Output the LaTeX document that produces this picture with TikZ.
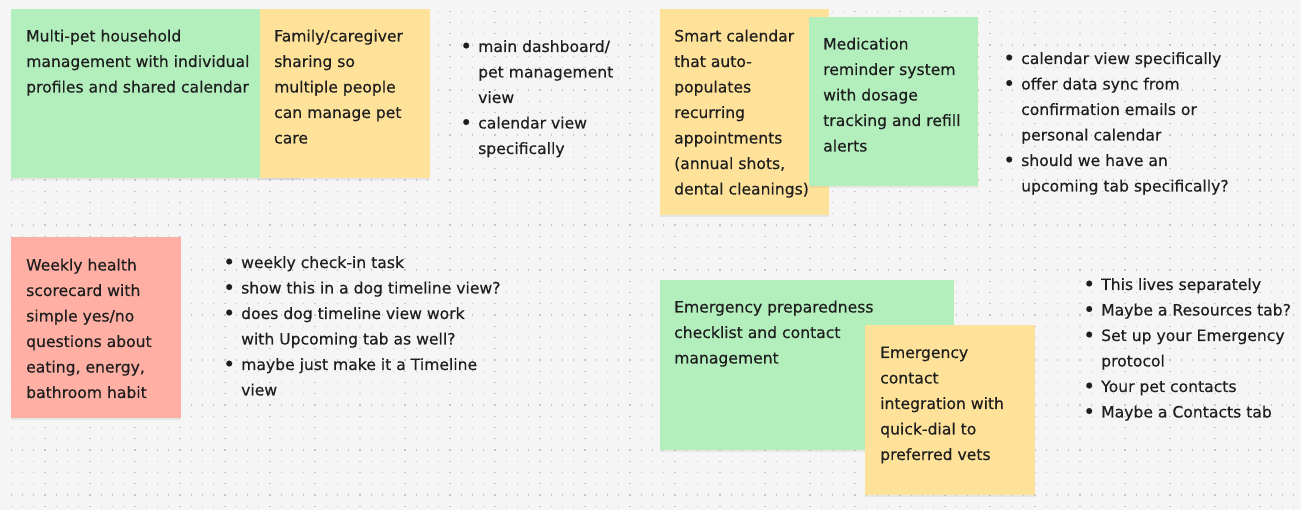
\documentclass[tikz,border=0pt]{standalone}
\usepackage{fontspec}
\setmainfont{DejaVu Sans}[BoldFont={DejaVu Sans}, BoldFeatures={FakeBold=0.35}]
\usetikzlibrary{shadows}

\definecolor{board}{HTML}{F5F5F5}
\definecolor{griddot}{HTML}{C6C6C6}
\definecolor{stickygreen}{HTML}{B3EFBD}
\definecolor{stickyyellow}{HTML}{FFE299}
\definecolor{stickyred}{HTML}{FFAFA3}
\definecolor{ink}{HTML}{1E1E1E}

\newcommand{\bul}{\makebox[12pt][l]{\makebox[0pt]{\raisebox{-0.07em}{\scalebox{1.3}{\textbullet}}}}}
\newcommand{\stack}[1]{\begin{tabular}[t]{@{}l@{}}#1\end{tabular}}
\newcommand{\bullets}[1]{\begin{tabular}[t]{@{}l@{}l@{}}#1\end{tabular}}

\tikzset{%
  sticky/.style={anchor=north west, inner sep=0pt, minimum width=170pt, minimum height=170pt,
    drop shadow={opacity=0.12, shadow xshift=0pt, shadow yshift=-2pt}},
  greennote/.style={sticky, fill=stickygreen},
  yellownote/.style={sticky, fill=stickyyellow},
  rednote/.style={sticky, fill=stickyred},
  notetext/.style={anchor=base west, inner sep=0pt, text=ink, font=\fontsize{15.6}{25.5}\selectfont\bfseries},
}

\begin{document}
\begin{tikzpicture}[x=1pt, y=-1pt]
\fill[board] (0,0) rectangle (1301,510);
\useasboundingbox (0,0) rectangle (1301,510);
% dot grid
\foreach \r in {1,...,45}
  \draw[griddot, line width=1.3pt, dash pattern=on 1.3pt off 9.95pt] (10.6,11.25*\r) -- (1301,11.25*\r);

% top left pair
\node[greennote, minimum width=290pt, minimum height=169pt] (multipet) at (11,9) {};
\node[yellownote, minimum height=169pt] (family) at (260,9) {};
\node[notetext] (multipettxt) at ([shift={(15,32.5)}]multipet.north west)
  {\stack{Multi-pet household\\management with individual\\profiles and shared calendar}};
\node[notetext] (familytxt) at ([shift={(14,32.5)}]family.north west)
  {\stack{Family/caregiver\\sharing so\\multiple people\\can manage pet\\care}};
\node[notetext] (dashlist) at (466,52)
  {\bullets{\bul & main dashboard/\\ & pet management\\ & view\\ \bul & calendar view\\ & specifically}};

% top right pair
\node[yellownote, minimum width=169pt, minimum height=206pt] (smartcal) at (660,9) {};
\node[greennote, minimum width=169pt, minimum height=169pt] (medication) at (809,17) {};
\node[notetext] (smartcaltxt) at ([shift={(14,32.5)}]smartcal.north west)
  {\stack{Smart calendar\\that auto-\\populates\\recurring\\appointments\\(annual shots,\\dental cleanings)}};
\node[notetext] (medicationtxt) at ([shift={(14,32.5)}]medication.north west)
  {\stack{Medication\\reminder system\\with dosage\\tracking and refill\\alerts}};
\node[notetext] (callist) at (1009,64)
  {\bullets{\bul & calendar view specifically\\ \bul & offer data sync from\\ & confirmation emails or\\ & personal calendar\\ \bul & should we have an\\ & upcoming tab specifically?}};

% health scorecard
\node[rednote, minimum height=181pt] (weekly) at (11,237) {};
\node[notetext] (weeklytxt) at ([shift={(15,33.5)}]weekly.north west)
  {\stack{Weekly health\\scorecard with\\simple yes/no\\questions about\\eating, energy,\\bathroom habit}};
\node[notetext] (timelist) at (229,268)
  {\bullets{\bul & weekly check-in task\\ \bul & show this in a dog timeline view?\\ \bul & does dog timeline view work\\ & with Upcoming tab as well?\\ \bul & maybe just make it a Timeline\\ & view}};

% emergency pair
\node[greennote, minimum width=294pt, minimum height=170pt] (prepared) at (660,280) {};
\node[yellownote] (contact) at (865,325) {};
\node[notetext] (preparedtxt) at ([shift={(14,32.5)}]prepared.north west)
  {\stack{Emergency preparedness\\checklist and contact\\management}};
\node[notetext] (contacttxt) at ([shift={(15,33)}]contact.north west)
  {\stack{Emergency\\contact\\integration with\\quick-dial to\\preferred vets}};
\node[notetext] (emerglist) at (1089,290)
  {\bullets{\bul & This lives separately\\ \bul & Maybe a Resources tab?\\ \bul & Set up your Emergency\\ & protocol\\ \bul & Your pet contacts\\ \bul & Maybe a Contacts tab}};
\end{tikzpicture}
\end{document}
